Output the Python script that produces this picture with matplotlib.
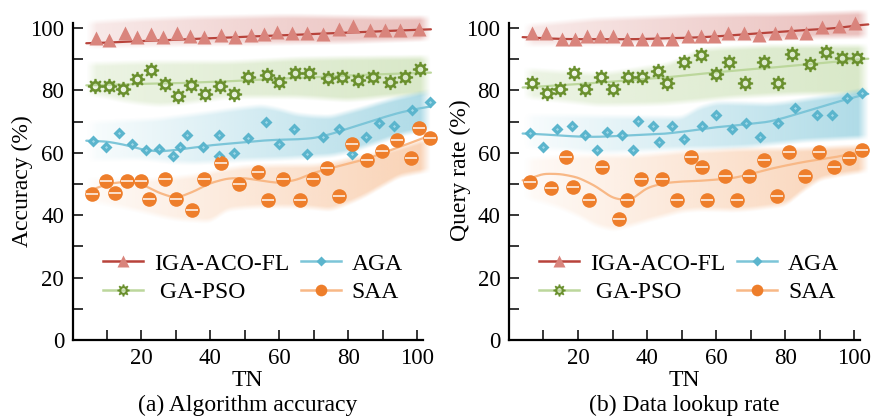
import numpy as np
import matplotlib
matplotlib.use("Agg")
import matplotlib.pyplot as plt
import matplotlib.colors as mcolors
from matplotlib.path import Path
from matplotlib.lines import Line2D

plt.rcParams["font.family"] = "serif"
plt.rcParams["font.serif"] = ["Liberation Serif", "DejaVu Serif"]

# ---- (a) accuracy --------------------------------------------------------
acc_iga_x = [6.8, 10.7, 15.2, 18.8, 22.7, 26.4, 30.2, 34.1, 38.2, 43.0, 47.2, 51.7,
             55.6, 59.4, 63.6, 68.0, 72.8, 77.2, 81.5, 86.4, 90.7, 95.1, 100.4]
acc_iga_y = [96.7, 96.2, 98.3, 97.2, 98.1, 97.2, 98.3, 97.4, 97.2, 97.7, 97.0, 97.7,
             98.1, 98.6, 98.5, 98.5, 98.1, 99.6, 100.6, 99.4, 99.4, 99.4, 99.6]
acc_ga_x = [6.5, 10.7, 14.6, 18.8, 22.7, 26.9, 30.7, 34.4, 38.5, 42.8, 46.9, 51.0,
            56.4, 60.0, 64.6, 68.7, 74.0, 78.1, 82.8, 87.3, 92.0, 96.5, 100.9]
acc_ga_y = [81.4, 81.4, 80.3, 83.6, 86.5, 82.1, 78.2, 81.7, 78.7, 81.4, 78.7, 84.4,
            84.9, 82.8, 85.5, 85.5, 83.9, 84.2, 83.3, 84.4, 82.8, 84.2, 86.9]
acc_aga_x = [5.9, 9.7, 13.6, 17.2, 21.3, 25.2, 29.1, 31.2, 33.3, 38.0, 42.6, 42.6, 47.0,
             50.9, 56.2, 59.9, 64.4, 68.1, 72.6, 77.2, 81.0, 85.2, 88.8, 93.3, 98.5, 103.6]
acc_aga_y = [63.8, 62.0, 66.2, 62.7, 60.9, 61.1, 59.0, 62.0, 65.7, 62.0, 65.7, 59.0, 60.0,
             64.6, 70.0, 62.7, 67.5, 59.6, 65.2, 67.5, 59.6, 65.2, 69.7, 68.6, 73.7, 76.4]
acc_saa_x = [5.6, 9.7, 12.3, 15.9, 19.9, 22.3, 26.9, 30.0, 34.8, 38.2, 43.0, 48.4, 53.8,
             56.7, 61.2, 66.1, 69.7, 73.9, 77.4, 81.0, 85.5, 89.7, 94.1, 98.3, 100.4, 103.8]
acc_saa_y = [46.8, 50.9, 47.2, 50.9, 50.9, 45.2, 51.7, 45.2, 41.7, 51.7, 56.8, 50.0, 53.7,
             44.9, 51.7, 44.9, 51.7, 55.0, 46.3, 62.8, 57.7, 60.6, 64.1, 58.4, 67.8, 64.6]

# trend lines and spread bands, read on a 5-step grid
curve_x = [4, 10, 15, 20, 25, 30, 35, 40, 45, 50, 55, 60, 65, 70, 75, 80, 85, 90, 95, 100, 104]

acc_iga_fit = [95.1, 95.3, 95.6, 95.8, 96.0, 96.2, 96.5, 96.7, 96.9, 97.2, 97.4, 97.6,
               97.8, 98.1, 98.3, 98.5, 98.7, 99.0, 99.2, 99.4, 99.6]
acc_iga_lo = [93.0, 93.2, 93.4, 93.5, 93.6, 93.7, 93.8, 93.9, 94.0, 94.0, 94.1, 94.2,
              94.3, 94.4, 94.5, 94.6, 94.8, 95.0, 95.2, 95.4, 95.6]
acc_iga_hi = [102.6, 103.0, 103.3, 103.6, 103.8, 104.0, 104.2, 104.3, 104.4, 104.5, 104.6,
              104.7, 104.7, 104.6, 104.5, 104.4, 104.3, 104.2, 104.2, 104.2, 104.2]
acc_ga_fit = [81.6, 81.8, 81.9, 82.1, 82.2, 82.3, 82.5, 82.7, 82.9, 83.2, 83.5, 83.7,
              84.0, 84.2, 84.5, 84.8, 85.0, 85.2, 85.4, 85.6, 85.7]
acc_ga_lo = [78.0, 76.8, 75.6, 74.8, 74.3, 74.6, 75.3, 76.0, 76.8, 76.9, 76.9, 76.9,
             76.9, 76.6, 76.2, 75.9, 76.3, 76.9, 77.3, 77.7, 78.0]
acc_ga_hi = [89.2, 89.3, 89.5, 89.6, 89.7, 89.7, 89.7, 89.7, 89.7, 89.9, 90.2, 90.5,
             90.8, 90.9, 91.0, 91.1, 91.1, 91.2, 91.2, 91.3, 91.3]
acc_aga_fit = [63.9, 63.6, 62.6, 61.1, 60.4, 60.9, 61.7, 62.4, 62.9, 63.4, 63.9, 64.2,
               64.3, 64.7, 66.0, 67.8, 69.5, 71.3, 72.9, 74.1, 74.9]
acc_aga_lo = [56.6, 56.8, 57.0, 57.1, 56.5, 55.9, 55.7, 56.0, 56.4, 56.7, 56.9, 57.1,
              57.4, 57.8, 58.1, 59.2, 61.0, 62.8, 64.8, 66.0, 66.8]
acc_aga_hi = [70.5, 70.8, 71.1, 71.3, 71.6, 72.3, 73.0, 73.7, 74.5, 75.2, 75.8, 74.7,
              73.1, 72.5, 72.3, 73.8, 75.3, 77.0, 78.5, 79.7, 80.7]
acc_saa_fit = [47.5, 50.0, 50.7, 50.0, 47.2, 45.4, 47.5, 50.3, 51.8, 51.9, 51.0, 50.3,
               51.3, 53.6, 55.1, 56.5, 57.9, 59.9, 61.9, 64.0, 65.7]
acc_saa_lo = [43.8, 42.4, 41.4, 40.2, 38.8, 37.7, 37.3, 37.0, 40.8, 41.4, 41.7, 41.7,
              41.7, 41.3, 40.7, 42.7, 45.2, 48.4, 51.5, 52.6, 53.4]
acc_saa_hi = [52.3, 52.1, 51.9, 51.9, 52.3, 52.7, 53.3, 54.4, 55.5, 56.2, 56.5, 56.6,
              56.6, 56.6, 57.3, 58.5, 59.6, 60.7, 62.2, 63.9, 65.2]

# ---- (b) data lookup rate ------------------------------------------------
qr_iga_x = [6.8, 10.8, 15.3, 19.2, 22.7, 26.4, 30.2, 34.3, 38.5, 42.8, 47.1, 51.7,
            55.5, 59.4, 63.5, 67.9, 72.5, 77.0, 81.6, 86.0, 90.6, 95.4, 100.2]
qr_iga_y = [98.3, 98.5, 96.4, 96.4, 97.4, 97.4, 97.4, 96.4, 96.4, 96.4, 96.4, 97.4,
            97.4, 97.4, 98.5, 98.5, 97.8, 98.5, 98.8, 98.5, 100.4, 100.6, 101.5]
qr_ga_x = [6.8, 11.0, 14.8, 18.9, 22.1, 26.6, 30.2, 34.4, 38.5, 43.3, 45.7, 50.8,
           55.6, 60.0, 63.8, 68.2, 73.7, 77.8, 81.9, 87.2, 91.8, 96.4, 100.7]
qr_ga_y = [82.3, 79.3, 80.4, 85.5, 80.4, 84.2, 80.4, 84.2, 84.2, 86.3, 82.3, 89.2,
           91.3, 85.3, 89.2, 82.5, 89.2, 82.5, 91.7, 88.5, 92.4, 90.3, 90.3]
qr_aga_x = [6.1, 10.0, 13.9, 18.4, 22.1, 25.4, 28.3, 32.7, 36.0, 37.3, 41.7, 43.5, 47.3,
            50.8, 55.8, 59.9, 64.5, 68.7, 72.7, 78.0, 82.8, 89.1, 93.4, 97.8, 102.1]
qr_aga_y = [66.4, 62.0, 67.6, 68.7, 65.7, 60.9, 66.7, 65.7, 60.9, 70.2, 68.7, 63.6, 68.7,
            64.4, 68.7, 72.1, 67.5, 69.6, 65.2, 69.6, 74.3, 72.1, 72.1, 77.5, 79.3]
qr_saa_x = [6.1, 12.2, 16.6, 18.7, 23.2, 26.9, 32.0, 34.1, 38.3, 44.4, 48.6, 52.6, 55.8,
            57.3, 62.6, 66.1, 69.4, 73.7, 77.5, 81.2, 85.7, 89.8, 94.1, 98.3, 102.1]
qr_saa_y = [50.7, 48.6, 58.8, 49.1, 44.9, 55.4, 38.8, 44.9, 51.7, 51.7, 44.9, 58.8, 55.4,
            44.9, 52.7, 44.9, 52.7, 57.7, 46.3, 60.4, 52.7, 60.4, 55.4, 58.2, 60.9]

qr_iga_fit = [97.1, 96.7, 96.5, 96.4, 96.4, 96.4, 96.4, 96.5, 96.7, 96.8, 97.0, 97.3,
              97.7, 98.1, 98.5, 98.9, 99.3, 99.6, 100.0, 100.7, 101.2]
qr_iga_lo = [93.5, 93.6, 93.7, 93.7, 93.8, 93.9, 94.0, 94.2, 94.5, 94.8, 95.1, 95.2,
             95.3, 95.4, 95.5, 95.6, 95.8, 95.9, 96.0, 96.1, 96.2]
qr_iga_hi = [101.4, 102.0, 102.5, 103.0, 103.5, 103.7, 103.9, 104.1, 104.3, 104.5, 104.7,
             104.8, 104.9, 105.0, 105.0, 105.1, 105.2, 105.4, 105.5, 105.7, 105.8]
qr_ga_fit = [80.9, 81.3, 81.7, 82.0, 82.4, 82.8, 83.3, 83.7, 84.1, 84.7, 85.2, 85.8,
             86.3, 86.8, 87.2, 87.7, 88.2, 88.7, 89.2, 89.8, 90.2]
qr_ga_lo = [77.0, 76.3, 75.7, 75.1, 74.4, 74.4, 74.5, 74.6, 74.8, 75.3, 75.8, 76.4,
            76.9, 77.2, 77.5, 77.8, 78.0, 78.0, 78.0, 78.0, 78.0]
qr_ga_hi = [87.6, 87.2, 86.8, 86.5, 86.1, 86.6, 87.4, 88.3, 89.0, 91.0, 93.9, 94.3,
            94.6, 94.8, 95.1, 95.1, 95.1, 95.1, 95.1, 95.1, 95.1]
qr_aga_fit = [66.2, 65.9, 65.5, 65.2, 65.1, 65.3, 65.6, 65.8, 66.1, 66.7, 67.5, 68.2,
              68.7, 69.3, 69.9, 71.3, 73.0, 74.6, 76.3, 77.8, 79.0]
qr_aga_lo = [60.9, 60.5, 60.2, 59.8, 59.4, 59.4, 59.7, 60.0, 60.3, 60.5, 60.6, 60.7,
             60.9, 61.2, 61.9, 62.4, 63.0, 63.3, 63.6, 63.9, 64.1]
qr_aga_hi = [73.0, 72.9, 72.8, 72.7, 72.6, 72.5, 72.4, 72.3, 72.2, 72.1, 75.4, 76.9,
             76.8, 76.6, 76.4, 76.9, 77.8, 78.6, 79.3, 80.5, 81.4]
qr_saa_fit = [51.0, 53.3, 53.2, 52.1, 49.4, 45.5, 44.6, 48.8, 50.3, 50.8, 51.0, 51.4,
              51.9, 53.2, 54.7, 55.9, 57.0, 57.9, 58.7, 60.0, 61.0]
qr_saa_lo = [44.9, 43.2, 41.4, 39.0, 35.9, 34.5, 35.8, 37.5, 39.0, 40.5, 41.0, 40.9,
             40.7, 41.1, 41.8, 42.5, 47.0, 50.8, 51.9, 52.8, 53.4]
qr_saa_hi = [58.8, 59.2, 59.6, 59.8, 59.8, 59.8, 59.8, 60.1, 60.6, 61.1, 61.4, 61.6,
             61.9, 62.0, 62.0, 62.0, 62.0, 62.3, 62.6, 62.8, 63.0]

names = ["IGA-ACO-FL", " GA-PSO", "AGA", "SAA"]


def gear_marker(teeth=8):
    step = 2 * np.pi / teeth
    outer = []
    for i in range(teeth):
        b = i * step
        for f, r in ((-0.32, 0.72), (-0.17, 1.0), (0.17, 1.0), (0.32, 0.72)):
            a = b + f * step
            outer.append((r * np.cos(a), r * np.sin(a)))
    t = np.linspace(0, 2 * np.pi, 25)[:-1][::-1]
    hole = [(0.36 * np.cos(a), 0.36 * np.sin(a)) for a in t]
    verts = outer + [outer[0]] + hole + [hole[0]]
    codes = ([Path.MOVETO] + [Path.LINETO] * (len(outer) - 1) + [Path.CLOSEPOLY]
             + [Path.MOVETO] + [Path.LINETO] * (len(hole) - 1) + [Path.CLOSEPOLY])
    return Path(verts, codes)


GEAR = gear_marker()

styles = [
    dict(line="#b8433b", band="#d98a85", a=(0.18, 0.55), marker="^", mc="#d9847c", ms=10),
    dict(line="#bcd79c", band="#a9cc84", a=(0.22, 0.45), marker=GEAR, mc="#6a902e", ms=11),
    dict(line="#7cc5d8", band="#6bbdd3", a=(0.04, 0.55), marker="D", mc="#5bb5cd", ms=6.5),
    dict(line="#f8b886", band="#f4a56a", a=(0.05, 0.50), marker="o", mc="#ee7e2b", ms=10.5),
]


def smooth(x, y, n=400, win=25):
    xs = np.linspace(x[0], x[-1], n)
    ys = np.interp(xs, x, y)
    k = np.hanning(win)
    k /= k.sum()
    ys = np.convolve(np.pad(ys, win // 2, mode="edge"), k, mode="valid")
    return xs, ys


def draw_band(ax, x, lo, hi, color, a0, a1):
    xs, lo_s = smooth(x, lo)
    _, hi_s = smooth(x, hi)
    ys = np.linspace(lo_s.min() - 1, hi_s.max() + 1, 300)
    X, Y = np.meshgrid(xs, ys)
    feather = 1.8
    edge = np.clip((Y - lo_s) / feather, 0, 1) * np.clip((hi_s - Y) / feather, 0, 1)
    edge *= np.clip((X - xs[0]) / 3, 0, 1) * np.clip((xs[-1] - X) / 3, 0, 1)
    ramp = a0 + (a1 - a0) * (X - xs[0]) / (xs[-1] - xs[0])
    img = np.zeros(X.shape + (4,))
    img[..., :3] = mcolors.to_rgb(color)
    img[..., 3] = edge * ramp
    ax.imshow(img, extent=(xs[0], xs[-1], ys[0], ys[-1]), origin="lower",
              aspect="auto", interpolation="bilinear", zorder=1, clip_on=False)


def draw_markers(ax, x, y, st):
    ax.plot(x, y, ls="none", marker=st["marker"], ms=st["ms"], mfc=st["mc"],
            mec="none", zorder=5, clip_on=False)
    if st["marker"] == "o":
        ax.plot(x, y, ls="none", marker="_", ms=st["ms"] * 0.8, mew=1.4,
                color="white", alpha=0.75, zorder=6, clip_on=False)
    if st["marker"] == "D":
        ax.plot(x, y, ls="none", marker="D", ms=1.6, mfc="#9fd8e8", mec="none",
                zorder=6, clip_on=False)


def panel(ax, series, xmax, ylabel_pos, ylabel, caption):
    for (mx, my, fit, lo, hi), st in zip(series, styles):
        draw_band(ax, curve_x, lo, hi, st["band"], *st["a"])
    for (mx, my, fit, lo, hi), st in zip(series, styles):
        xs, ys = smooth(curve_x, fit)
        ax.plot(xs, ys, color=st["line"], lw=1.6, zorder=4, clip_on=False,
                solid_capstyle="round")
    for (mx, my, fit, lo, hi), st in zip(series, styles):
        draw_markers(ax, mx, my, st)

    ax.set_xlim(0, xmax)
    ax.set_ylim(0, 101.6)
    for s in ("top", "right"):
        ax.spines[s].set_visible(False)
    for s in ("left", "bottom"):
        ax.spines[s].set_linewidth(1.6)
    ax.set_xticks(range(10, 101, 10))
    ax.set_xticklabels(["" if v % 20 else str(v) for v in range(10, 101, 10)])
    ax.set_yticks(range(0, 101, 10))
    ax.set_yticklabels(["" if v % 20 else str(v) for v in range(0, 101, 10)])
    ax.tick_params(direction="in", length=7.5, width=1.1, labelsize=16.5, pad=6)

    handles = []
    for st in styles:
        handles.append(Line2D([], [], color=st["line"], lw=1.8, marker=st["marker"],
                              ms=st["ms"] * 0.8, mfc=st["mc"], mec="none"))
    ax.legend(handles, names, ncol=2, loc="center left", bbox_to_anchor=(0.087, 0.195),
              frameon=False, fontsize=17, borderpad=0, borderaxespad=0,
              handlelength=1.7, handletextpad=0.45, columnspacing=0.5, labelspacing=0.3)

    bb = ax.get_position()
    cx = (bb.x0 + bb.x1) / 2
    fig.text(cx, 1 - 381 / 417, "TN", ha="center", va="center", fontsize=17)
    fig.text(cx, 1 - 405 / 417, caption, ha="center", va="center", fontsize=17)
    fig.text(ylabel_pos[0] / 877, 1 - ylabel_pos[1] / 417, ylabel, rotation=90,
             ha="center", va="center", fontsize=17)


fig = plt.figure(figsize=(8.77, 4.17), dpi=100)
ax1 = fig.add_axes([72.5 / 877, 77 / 417, 350.5 / 877, 317 / 417])
ax2 = fig.add_axes([508.8 / 877, 77 / 417, 351.2 / 877, 317 / 417])

acc_series = [
    (acc_iga_x, acc_iga_y, acc_iga_fit, acc_iga_lo, acc_iga_hi),
    (acc_ga_x, acc_ga_y, acc_ga_fit, acc_ga_lo, acc_ga_hi),
    (acc_aga_x, acc_aga_y, acc_aga_fit, acc_aga_lo, acc_aga_hi),
    (acc_saa_x, acc_saa_y, acc_saa_fit, acc_saa_lo, acc_saa_hi),
]
qr_series = [
    (qr_iga_x, qr_iga_y, qr_iga_fit, qr_iga_lo, qr_iga_hi),
    (qr_ga_x, qr_ga_y, qr_ga_fit, qr_ga_lo, qr_ga_hi),
    (qr_aga_x, qr_aga_y, qr_aga_fit, qr_aga_lo, qr_aga_hi),
    (qr_saa_x, qr_saa_y, qr_saa_fit, qr_saa_lo, qr_saa_hi),
]

panel(ax1, acc_series, 101.7, (22, 181), "Accuracy (%)", "(a) Algorithm accuracy")
panel(ax2, qr_series, 101.6, (460, 170), "Query rate (%)", "(b) Data lookup rate")

fig.savefig("out.png", dpi=100)
